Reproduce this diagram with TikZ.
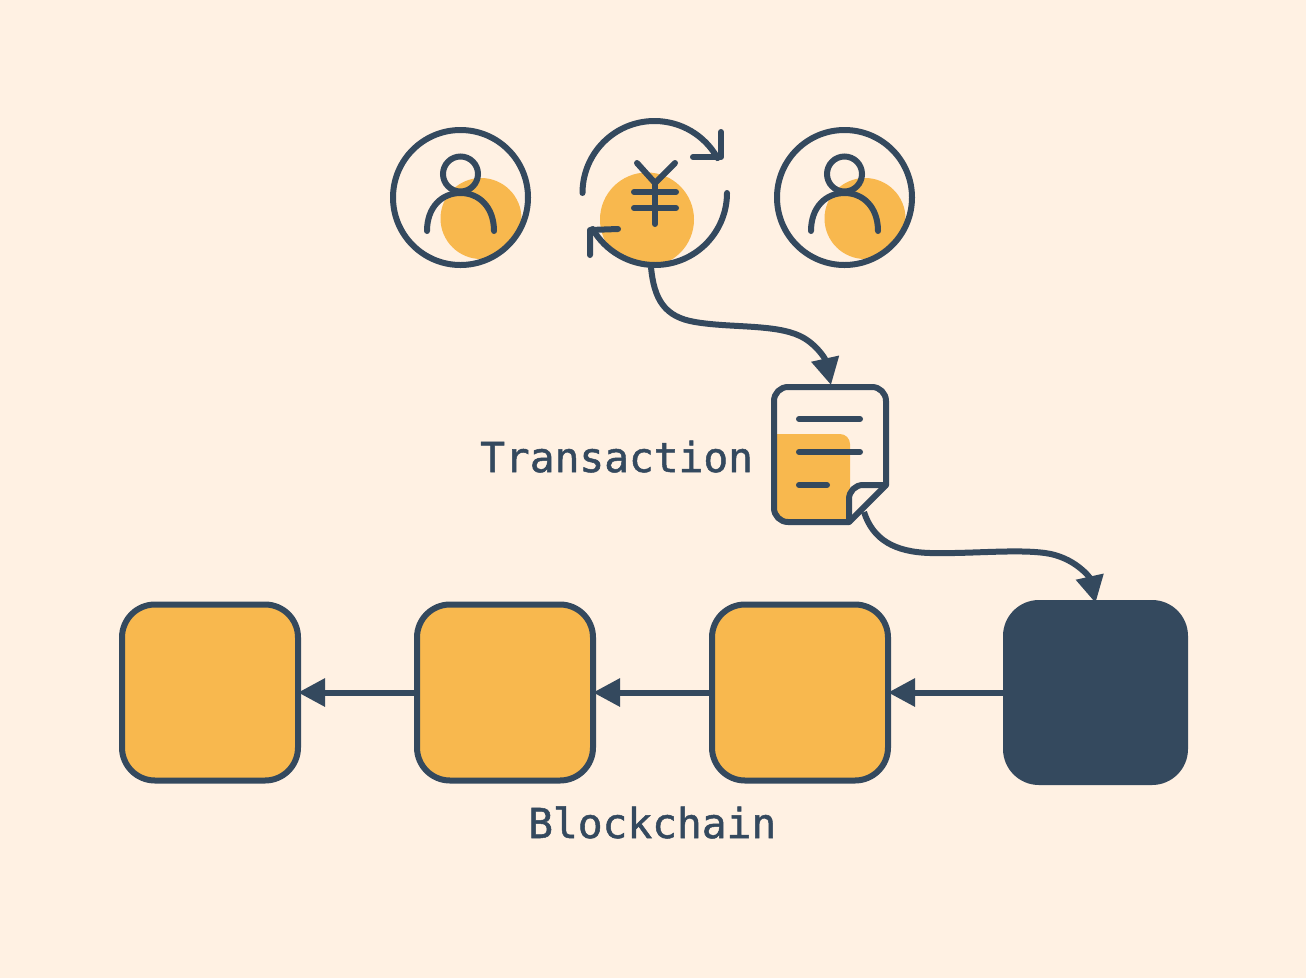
\documentclass[tikz,border=0pt]{standalone}
\usepackage{fontspec}
\newfontfamily\labfont[FakeBold=1.2]{DejaVu Sans Mono}
\usetikzlibrary{arrows.meta}
\definecolor{bgc}{HTML}{FFF1E3}
\definecolor{ink}{HTML}{34495E}
\definecolor{gold}{HTML}{F8B84E}
\tikzset{
  ln/.style={draw=ink,line width=6pt,line cap=round,line join=round},
  blk/.style={draw=ink,fill=gold,line width=6pt,rounded corners=33pt,minimum width=176pt,minimum height=176pt,inner sep=0pt,outer sep=0pt},
  blkd/.style={blk,fill=ink,minimum width=179pt,minimum height=179pt},
  conn/.style={draw=ink,line width=6pt,-{Triangle[length=27pt,width=27pt]}},
  lab/.style={text=ink,font=\labfont\fontsize{41.2}{41.2}\selectfont,inner sep=0pt,anchor=base west},
  disc/.style={circle,fill=gold,inner sep=0pt},
  ring/.style={circle,draw=ink,fill=none,line width=6pt,inner sep=0pt,outer sep=0pt}
}
\begin{document}
\begin{tikzpicture}[x=1pt,y=-1pt]
\useasboundingbox (0,0) rectangle (1306,978);
\fill[bgc] (0,0) rectangle (1306,978);
% users
\foreach \n/\dx in {ua/0,ub/384}{
  \begin{scope}[xshift=\dx pt]
    \node[disc,minimum size=81pt] at (481,218.5) {};
    \node[ring,minimum size=135pt] (\n) at (460.5,197.5) {};
    \node[ring,minimum size=35pt] at (460.5,174) {};
    \draw[ln] (427,231) .. controls (427,207) and (442,193) .. (460.5,193) .. controls (479,193) and (494,207) .. (494,231);
  \end{scope}
}
% exchange
\node[disc,minimum size=94pt] (yen) at (647,219.5) {};
\draw[ln] (582.5,193) arc[start angle=180,end angle=331,radius=72];
\draw[ln] (727,193) arc[start angle=0,end angle=150,radius=72];
\draw[ln] (721,132) -- (721,157) -- (693,157);
\draw[ln] (590,255) -- (590,230) -- (618,229);
\draw[ln] (637,163) -- (655,183) -- (675,163);
\draw[ln] (634,192) -- (676,192);
\draw[ln] (634,208) -- (676,208);
\draw[ln] (655,183) -- (655,224);
\coordinate (swapout) at (651,267);
% document
\fill[gold] (776,434) -- (840,434) arc[start angle=270,end angle=360,radius=10] -- (850,520) -- (776,520) -- cycle;
\draw[ln,miter limit=2] (849,522) -- (788,522) arc[start angle=90,end angle=180,radius=14] -- (774,401) arc[start angle=180,end angle=270,radius=14] -- (872,387) arc[start angle=270,end angle=360,radius=14] -- (886,485) -- cycle;
\draw[ln] (849,522) -- (849,499) arc[start angle=180,end angle=270,radius=14] -- (886,485);
\draw[ln] (799,419) -- (860,419);
\draw[ln] (799,452) -- (860,452);
\draw[ln] (799,485) -- (827,485);
\coordinate (docin) at (831,385);
\coordinate (docout) at (864,512);
\node[lab] (tx) at (480,472) {Transaction};
% blocks
\node[blk] (b1) at (210,692.5) {};
\node[blk] (b2) at (505,692.5) {};
\node[blk] (b3) at (800,692.5) {};
\node[blkd] (b4) at (1095.5,692.5) {};
\node[lab] (bc) at (528,838) {Blockchain};
\draw[conn] (b2.west) -- (b1.east);
\draw[conn] (b3.west) -- (b2.east);
\draw[conn] (b4.west) -- (b3.east);
\draw[conn] (swapout) .. controls (654,300) and (665,317) .. (695,322) .. controls (730,328) and (775,324) .. (800,336) .. controls (815,343) and (825,358) .. (docin);
\draw[conn] (docout) .. controls (873,540) and (895,552) .. (930,553) .. controls (970,554) and (1015,549) .. (1045,553) .. controls (1075,557) and (1090,578) .. (b4.north);
\end{tikzpicture}
\end{document}
